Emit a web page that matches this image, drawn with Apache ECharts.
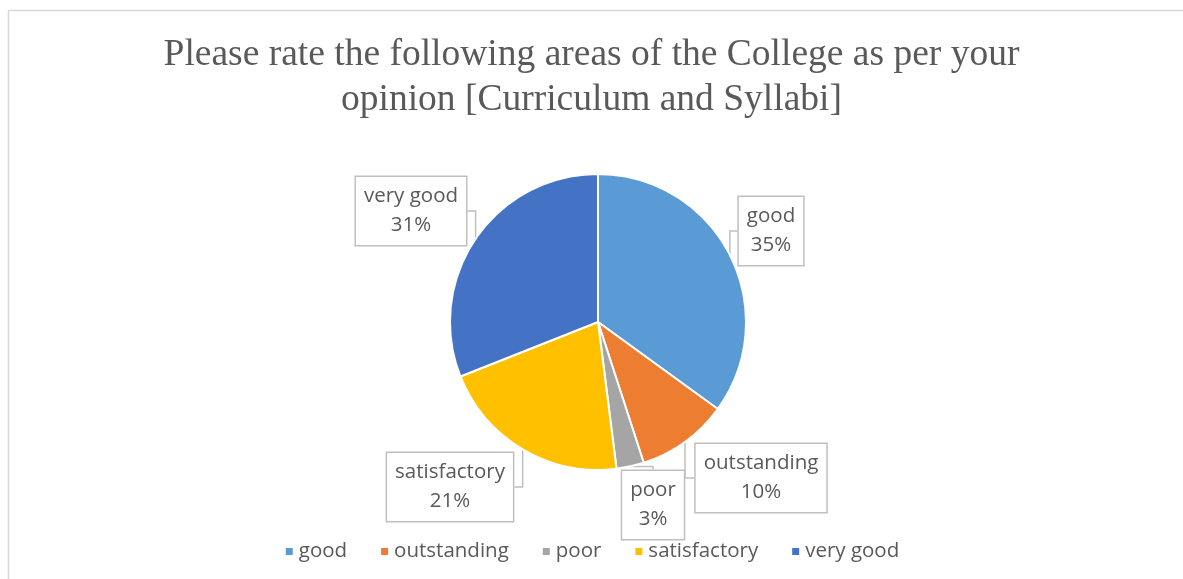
<!DOCTYPE html>
<html><head><meta charset="utf-8">
<script src="https://cdn.jsdelivr.net/npm/echarts@6/dist/echarts.min.js"></script>
<style>html,body{margin:0;padding:0;background:#fff}#c{width:1183px;height:579px}</style>
</head><body><div id="c"></div>
<script>
const titleText = 'Please rate the following areas of the College as per your\nopinion [Curriculum and Syllabi]';
const categories = ['good', 'outstanding', 'poor', 'satisfactory', 'very good'];
const values = [35, 10, 3, 21, 31];
const colors = ['#5B9BD5', '#ED7D31', '#A5A5A5', '#FFC000', '#4472C4'];
const labelPos = {
  'good': [771, 231],
  'outstanding': [761, 478],
  'poor': [653, 505],
  'satisfactory': [450, 487],
  'very good': [411, 211]
};
const chart = echarts.init(document.getElementById('c'));
chart.setOption({
  animation: false,
  color: colors,
  graphic: [{
    type: 'rect', shape: {x: 8.5, y: 10.5, width: 1190, height: 600},
    style: {fill: 'none', stroke: '#d9d9d9', lineWidth: 1.5}, silent: true, z: -1
  }],
  title: {
    text: titleText, left: 'center', top: 28,
    textStyle: {fontFamily: 'Liberation Serif', fontSize: 37.5, fontWeight: 'normal', color: '#595959', lineHeight: 45}
  },
  legend: {
    data: categories, top: 536, left: 'center', icon: 'rect', itemWidth: 9, itemHeight: 9, itemGap: 32,
    textStyle: {fontFamily: 'Open Sans', fontSize: 20.5, color: '#595959'}
  },
  series: [{
    type: 'pie', center: [598, 322], radius: 148, startAngle: 90, clockwise: true,
    itemStyle: {borderColor: '#fff', borderWidth: 2},
    data: categories.map((c, i) => ({name: c, value: values[i]})),
    label: {
      show: true, formatter: '{b}\n{d}%', fontFamily: 'Open Sans', fontSize: 20.5, color: '#595959',
      lineHeight: 29, backgroundColor: '#fff', borderColor: '#bfbfbf', borderWidth: 1.5,
      padding: [5, 8, 5, 8], align: 'center'
    },
    labelLine: {show: true, length: 10, length2: 10, lineStyle: {color: '#bfbfbf', width: 1.5}},
    labelLayout: function (p) {
      const name = categories[p.dataIndex];
      const pos = labelPos[name];
      return {x: pos[0], y: pos[1], align: 'center', verticalAlign: 'middle'};
    }
  }]
});
</script></body></html>
